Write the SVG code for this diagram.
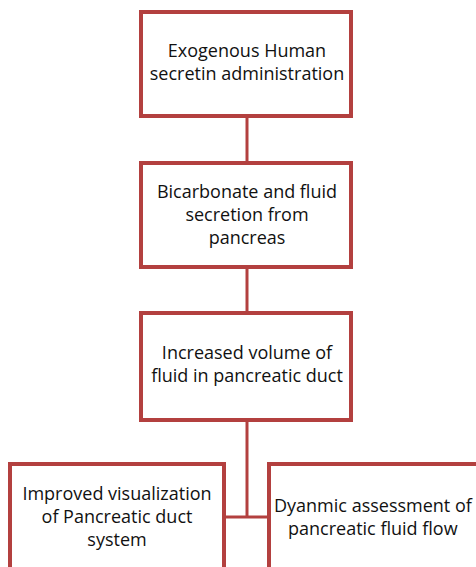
<svg xmlns="http://www.w3.org/2000/svg" width="476" height="567" viewBox="0 0 476 567">
<style>
.box{fill:#fff;stroke:#b3403f;stroke-width:4}
.t{font-family:"Open Sans","Noto Sans",sans-serif;font-size:18px;fill:#111;text-anchor:middle}
.c{fill:none;stroke:#b3403f;stroke-width:3}
</style>
<rect width="476" height="567" fill="#fff"/>
<g id="connectors">
<line class="c" x1="247" y1="116" x2="247" y2="163"/>
<line class="c" x1="247" y1="267" x2="247" y2="313"/>
<line class="c" x1="247" y1="420" x2="247" y2="517"/>
<line class="c" x1="226" y1="517" x2="267" y2="517"/>
</g>
<g id="n1">
<rect class="box" x="141" y="12" width="210" height="104"/>
<text class="t" x="247" y="57">Exogenous Human</text>
<text class="t" x="247" y="80">secretin administration</text>
</g>
<g id="n2">
<rect class="box" x="141" y="163" width="210" height="104"/>
<text class="t" x="247" y="198">Bicarbonate and fluid</text>
<text class="t" x="247" y="221">secretion from</text>
<text class="t" x="247" y="244">pancreas</text>
</g>
<g id="n3">
<rect class="box" x="141" y="313" width="210" height="107"/>
<text class="t" x="247" y="359">Increased volume of</text>
<text class="t" x="247" y="382">fluid in pancreatic duct</text>
</g>
<g id="n4">
<rect class="box" x="10" y="464" width="214" height="120"/>
<text class="t" x="117" y="500">Improved visualization</text>
<text class="t" x="117" y="523">of Pancreatic duct</text>
<text class="t" x="117" y="546">system</text>
</g>
<g id="n5">
<rect class="box" x="269" y="464" width="230" height="120"/>
<text class="t" x="274" y="512" style="text-anchor:start">Dyanmic assessment of</text>
<text class="t" x="288" y="535" style="text-anchor:start">pancreatic fluid flow</text>
</g>
</svg>
